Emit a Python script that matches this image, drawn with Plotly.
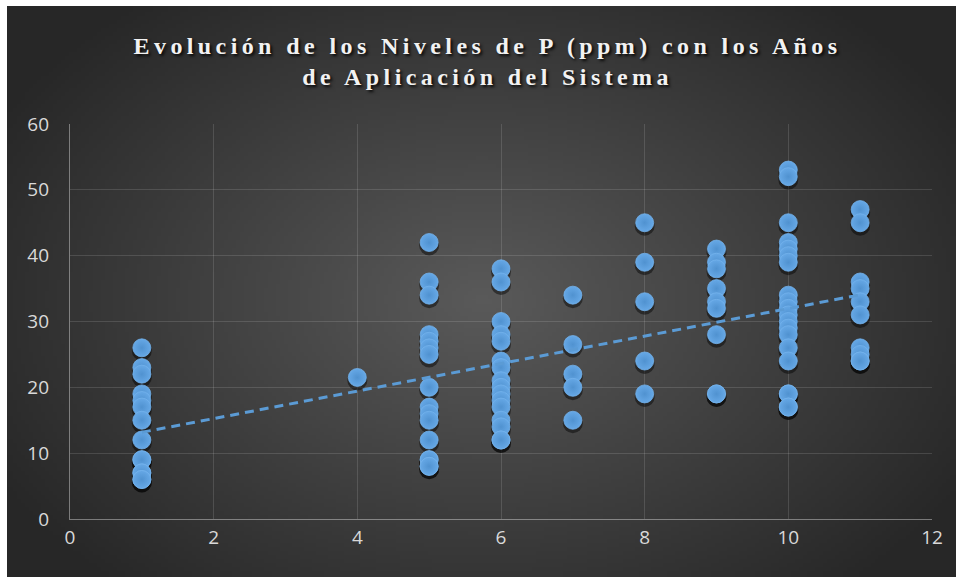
import base64, struct, zlib
import numpy as np
import plotly.graph_objects as go

# ---- data (years of application -> P levels, ppm); overlapping repeats included ----
p_year1 = [26, 23, 22, 19, 18, 17, 15, 12, 9, 9, 7, 7, 6, 6]
p_year4 = [21.5]
p_year5 = [42, 36, 34, 28, 27, 26, 25, 20, 17, 16, 15, 12, 9, 9, 8, 8]
p_year6 = [38, 36, 30, 28, 27, 24, 23, 21, 20, 19, 18, 17, 15, 14, 12, 12]
p_year7 = [34, 26.5, 22, 20, 15]
p_year8 = [45, 39, 33, 24, 19]
p_year9 = [41, 39, 38, 35, 33, 32, 28, 19, 19]
p_year10 = [53, 52, 45, 42, 41, 40, 39, 34, 33, 32, 31, 30, 29, 28, 26, 24, 19, 19, 17, 17]
p_year11 = [47, 45, 36, 35, 33, 31, 26, 25, 24, 24]

years = [1, 4, 5, 6, 7, 8, 9, 10, 11]
groups = [p_year1, p_year4, p_year5, p_year6, p_year7, p_year8, p_year9, p_year10, p_year11]

x_ticks = [0, 2, 4, 6, 8, 10, 12]
y_ticks = [0, 10, 20, 30, 40, 50, 60]

title_text = "Evolución de los Niveles de P (ppm) con los Años<br>de Aplicación del Sistema"

xs, ys = [], []
for yr, vals in zip(years, groups):
    xs += [yr] * len(vals)
    ys += vals
xs = np.array(xs, dtype=float)
ys = np.array(ys, dtype=float)

# linear trend
slope, intercept = np.polyfit(xs, ys, 1)
tx = np.array([xs.min(), xs.max()])
ty = slope * tx + intercept

# ---- background radial gradient image ----
W, H = 956, 577
L, R, T, B = 70, 24, 124, 58
PW, PH = W - L - R, H - T - B
bx0, by0 = 7, 6  # dark panel starts here (white strip on top / left)
gw, gh = 238, 143
xx = np.linspace(bx0, W, gw)[None, :]
yy = np.linspace(by0, H, gh)[:, None]
d = np.sqrt(((xx - 482) / 560.0) ** 2 + ((yy - 300) / 390.0) ** 2)
d = np.clip(d, 0, 1)
v = (0x5a - (0x5a - 0x27) * d).astype(np.uint8)
arr = np.stack([v, v, v], axis=-1)


def png_uri(a):
    h, w, _ = a.shape
    raw = b"".join(b"\x00" + a[i].tobytes() for i in range(h))

    def chunk(tag, data):
        return struct.pack(">I", len(data)) + tag + data + struct.pack(">I", zlib.crc32(tag + data) & 0xFFFFFFFF)

    png = (b"\x89PNG\r\n\x1a\n"
           + chunk(b"IHDR", struct.pack(">IIBBBBB", w, h, 8, 2, 0, 0, 0))
           + chunk(b"IDAT", zlib.compress(raw, 9))
           + chunk(b"IEND", b""))
    return "data:image/png;base64," + base64.b64encode(png).decode()


bg_src = png_uri(arr)

fig = go.Figure()

# placeholder on the base axes so the visible y axis / grid gets drawn
fig.add_trace(go.Scatter(x=[None], y=[None], mode="markers", xaxis="x", yaxis="y",
                         showlegend=False, hoverinfo="skip"))

# marker shadows (overlaid axis shifted a few pixels)
fig.add_trace(go.Scatter(
    x=xs, y=ys, mode="markers", xaxis="x", yaxis="y2", hoverinfo="skip",
    marker=dict(size=20, color="rgba(0,0,0,0.45)", line=dict(width=0)),
    showlegend=False,
))

fig.add_trace(go.Scatter(
    x=xs, y=ys, mode="markers", xaxis="x", yaxis="y3",
    marker=dict(size=18, color="#66a8e6",
                gradient=dict(type="radial", color="#5092d0"),
                line=dict(width=0.8, color="#74b2ec")),
    showlegend=False,
))

fig.add_trace(go.Scatter(
    x=tx, y=ty, mode="lines", xaxis="x", yaxis="y3",
    line=dict(color="#5b9bd5", width=3, dash="9px,6px"),
    showlegend=False, hoverinfo="skip",
))

grid = "rgba(255,255,255,0.13)"
axisline = "rgba(255,255,255,0.38)"
tickfont = dict(family="Open Sans, Liberation Sans, sans-serif", size=19, color="#d9d9d9")

fig.update_layout(
    width=W, height=H,
    margin=dict(l=L, r=R, t=T, b=B),
    paper_bgcolor="#ffffff",
    plot_bgcolor="rgba(0,0,0,0)",
    title=dict(
        text=title_text,
        x=0.51, xanchor="center", xref="container",
        y=1 - 54 / H, yanchor="middle", yref="container",
        font=dict(family="Liberation Serif, Times New Roman, serif", size=24,
                  color="#f2f2f2", weight="bold",
                  shadow="2px 2px 3px rgba(0,0,0,0.85)"),
    ),
    xaxis=dict(range=[0, 12], tickvals=x_ticks, ticktext=[str(t) for t in x_ticks],
               showgrid=True, gridcolor=grid, gridwidth=1,
               zeroline=False, showline=True, linecolor=axisline, linewidth=1.2,
               ticks="", tickfont=tickfont, ticklabelstandoff=1, fixedrange=True),
    yaxis=dict(range=[0, 60], tickvals=y_ticks, ticktext=[str(t) for t in y_ticks],
               showgrid=True, gridcolor=grid, gridwidth=1,
               zeroline=False, showline=True, linecolor=axisline, linewidth=1.2,
               ticks="", tickfont=tickfont, ticklabelstandoff=16, fixedrange=True),
    yaxis2=dict(range=[0.45, 60.45], overlaying="y", visible=False, fixedrange=True),
    yaxis3=dict(range=[0, 60], overlaying="y", visible=False, fixedrange=True),
    images=[dict(
        source=bg_src, xref="paper", yref="paper",
        x=(bx0 - L) / PW, y=1 + (T - by0) / PH,
        sizex=(W - bx0) / PW, sizey=(H - by0) / PH,
        sizing="stretch", xanchor="left", yanchor="top", layer="below",
    )],
)

post = """
document.body.style.margin='0';
document.body.style.overflow='hidden';
document.querySelectorAll('.gtitle').forEach(function(e){e.style.letterSpacing='4.4px';});
"""

fig.write_html("out.html", post_script=post, config={"displayModeBar": False})
